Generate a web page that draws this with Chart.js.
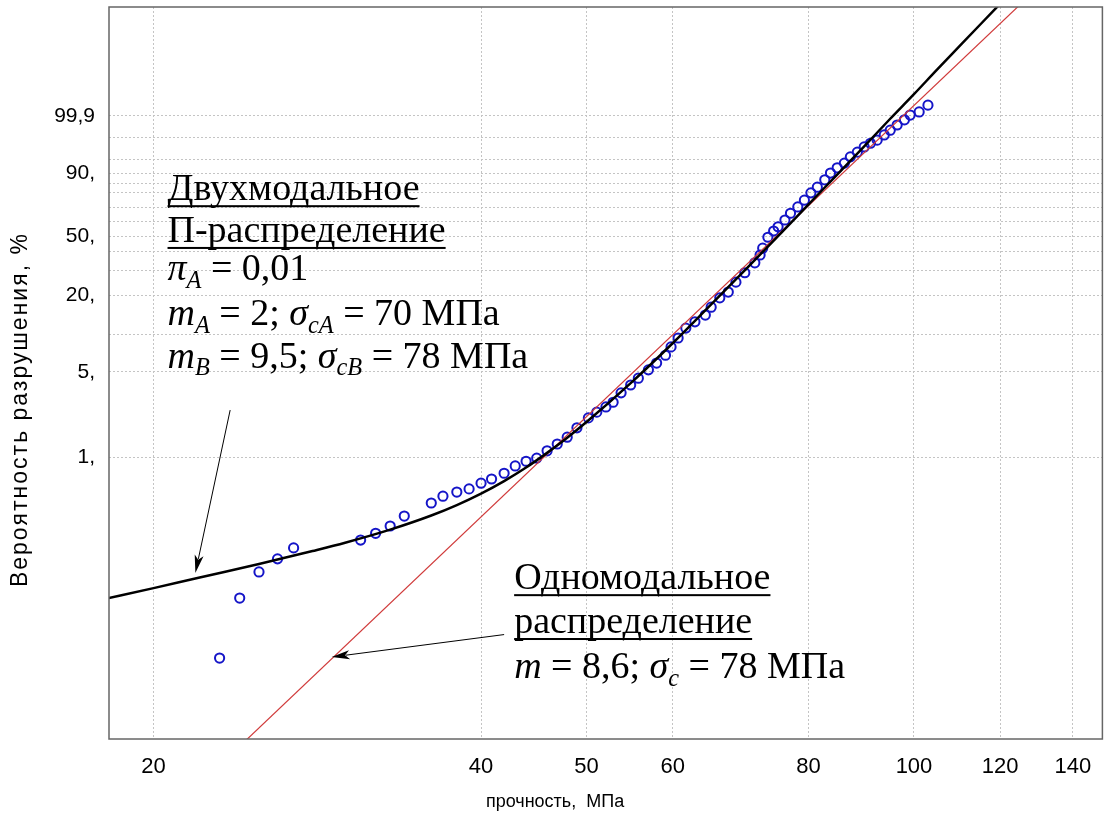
<!DOCTYPE html>
<html>
<head>
<meta charset="utf-8">
<script src="https://cdn.jsdelivr.net/npm/chart.js@4.4.0/dist/chart.umd.min.js"></script>
<style>
  html, body { margin: 0; padding: 0; background: #fff; }
</style>
</head>
<body>
<canvas id="chart" width="1109" height="823"></canvas>
<script>
// x: strength, MPa (log axis); y: Weibull ordinate ln(-ln(1-P))
const xTicks = [20, 40, 50, 60, 80, 100, 120, 140];
const yGridPercent = [1, 5, 10, 20, 30, 40, 50, 60, 70, 80, 85, 90, 95, 99, 99.9];
const yTickLabels = { 1: '1,', 5: '5,', 20: '20,', 50: '50,', 90: '90,', 99.9: '99,9' };

// test results (circles)
const pointStrength = [23.0, 24.0, 25.0, 26.0, 26.9, 31.0, 32.0, 33.0, 34.0, 36.0, 36.9, 38.0,
  39.0, 40.0, 40.9, 42.0, 43.0, 44.0, 45.0, 46.0, 47.0, 48.0, 49.0, 50.2, 51.1, 52.1, 52.9,
  53.8, 54.9, 55.8, 57.0, 58.0, 59.1, 59.8, 60.7, 61.7, 62.9, 64.3, 65.1, 66.3, 67.5, 68.6,
  69.9, 71.4, 72.2, 72.6, 73.4, 74.3, 75.0, 76.1, 77.0, 78.2, 79.3, 80.4, 81.5, 82.8, 83.8,
  85.0, 86.3, 87.4, 88.7, 90.0, 91.2, 92.5, 93.9, 95.1, 96.5, 98.0, 99.2, 101.1, 103.0];
const pointWeibull = [-8.45, -7.30, -6.80, -6.55, -6.34, -6.19, -6.06, -5.92, -5.73, -5.48, -5.35, -5.27,
  -5.21, -5.10, -5.02, -4.91, -4.77, -4.68, -4.62, -4.48, -4.35, -4.22, -4.04, -3.85, -3.74, -3.64, -3.55,
  -3.37, -3.22, -3.09, -2.93, -2.80, -2.65, -2.49, -2.32, -2.13, -2.01, -1.88, -1.73, -1.55, -1.44, -1.25,
  -1.07, -0.88, -0.73, -0.60, -0.39, -0.27, -0.19, -0.06, 0.07, 0.19, 0.32, 0.46, 0.57, 0.71, 0.84,
  0.94, 1.03, 1.15, 1.24, 1.34, 1.41, 1.47, 1.57, 1.66, 1.76, 1.86, 1.95, 2.01, 2.14];

// bimodal fit (black curve)
const bimodalStrength = [18, 20, 22, 25, 28, 30, 33, 36, 38, 40, 42, 44, 46, 48, 50, 55, 60, 65,
  70, 75, 80, 85, 90, 95, 100, 105, 110, 115, 121];
const bimodalWeibull = [-7.32, -7.11, -6.91, -6.65, -6.40, -6.24, -5.99, -5.72, -5.52, -5.30, -5.06,
  -4.80, -4.52, -4.23, -3.93, -3.17, -2.42, -1.69, -1.01, -0.37, 0.24, 0.81, 1.35, 1.87, 2.35, 2.82,
  3.26, 3.68, 4.16];

// unimodal fit (red line)
const unimodalStrength = [23.5, 127];
const unimodalWeibull = [-10.32, 4.19];

const weib = p => Math.log(-Math.log(1 - p / 100));
const zip = (xs, ys) => xs.map((x, i) => ({ x, y: ys[i] }));

const serif = '"Liberation Serif", "Times New Roman", serif';
const sans = '"Liberation Sans", Arial, sans-serif';

const textBlocks = [
  { x: 20.6, y: 0.32, underline: true, runs: [{ t: 'Двухмодальное' }] },
  { x: 20.6, y: -0.48, underline: true, runs: [{ t: 'П-распределение' }] },
  { x: 20.6, y: -1.21, runs: [{ t: 'π', it: true }, { t: 'A', it: true, sub: true }, { t: ' = 0,01' }] },
  { x: 20.6, y: -2.07, runs: [{ t: 'm', it: true }, { t: 'A', it: true, sub: true }, { t: ' = 2; ' },
    { t: 'σ', it: true }, { t: 'cA', it: true, sub: true }, { t: ' = 70 МПа' }] },
  { x: 20.6, y: -2.89, runs: [{ t: 'm', it: true }, { t: 'B', it: true, sub: true }, { t: ' = 9,5; ' },
    { t: 'σ', it: true }, { t: 'cB', it: true, sub: true }, { t: ' = 78 МПа' }] },
  { x: 42.9, y: -7.13, underline: true, runs: [{ t: 'Одномодальное' }] },
  { x: 42.9, y: -7.97, underline: true, runs: [{ t: 'распределение' }] },
  { x: 42.9, y: -8.83, runs: [{ t: 'm', it: true }, { t: ' = 8,6; ' }, { t: 'σ', it: true },
    { t: 'c', it: true, sub: true }, { t: ' = 78 МПа' }] }
];

const arrows = [
  { from: [23.52, -3.70], to: [21.85, -6.82] },
  { from: [42.0, -8.00], to: [29.16, -8.43] }
];

function drawRuns(ctx, x, y, runs, size) {
  const x0 = x;
  for (const r of runs) {
    const fs = r.sub ? size * 0.64 : size;
    ctx.font = (r.it ? 'italic ' : '') + fs + 'px ' + serif;
    ctx.fillText(r.t, x, y + (r.sub ? size * 0.2 : 0));
    x += ctx.measureText(r.t).width;
  }
  return x - x0;
}

function drawArrow(ctx, x0, y0, x1, y1) {
  const a = Math.atan2(y1 - y0, x1 - x0);
  const len = 18, half = 4.5;
  ctx.beginPath();
  ctx.moveTo(x0, y0);
  ctx.lineTo(x1 - Math.cos(a) * len * 0.8, y1 - Math.sin(a) * len * 0.8);
  ctx.lineWidth = 1;
  ctx.strokeStyle = '#000';
  ctx.stroke();
  ctx.beginPath();
  ctx.moveTo(x1, y1);
  ctx.lineTo(x1 - Math.cos(a) * len - Math.sin(a) * half, y1 - Math.sin(a) * len + Math.cos(a) * half);
  ctx.lineTo(x1 - Math.cos(a) * len * 0.75, y1 - Math.sin(a) * len * 0.75);
  ctx.lineTo(x1 - Math.cos(a) * len + Math.sin(a) * half, y1 - Math.sin(a) * len - Math.cos(a) * half);
  ctx.closePath();
  ctx.fillStyle = '#000';
  ctx.fill();
}

const decorations = {
  id: 'decorations',
  afterDraw(chart) {
    const { ctx, chartArea: ca, scales } = chart;
    const sx = scales.x, sy = scales.y;
    ctx.save();
    ctx.strokeStyle = '#666';
    ctx.lineWidth = 1.5;
    ctx.strokeRect(ca.left, ca.top, ca.right - ca.left, ca.bottom - ca.top);

    // axis titles
    ctx.fillStyle = '#000';
    ctx.textBaseline = 'alphabetic';
    ctx.textAlign = 'center';
    ctx.font = '18px ' + sans;
    ctx.fillText('прочность,  МПа', ca.left + (ca.right - ca.left) * 0.449, 807);
    ctx.save();
    ctx.translate(27, ca.top + (ca.bottom - ca.top) * 0.55);
    ctx.rotate(-Math.PI / 2);
    ctx.font = '23px ' + sans;
    ctx.letterSpacing = '2px';
    ctx.fillText('Вероятность разрушения, %', 0, 0);
    ctx.restore();

    ctx.textAlign = 'left';
    for (const b of textBlocks) {
      const px = sx.getPixelForValue(b.x), py = sy.getPixelForValue(b.y);
      ctx.fillStyle = '#000';
      const w = drawRuns(ctx, px, py, b.runs, 38);
      if (b.underline) ctx.fillRect(px, py + 5, w, 2);
    }
    for (const a of arrows) {
      drawArrow(ctx, sx.getPixelForValue(a.from[0]), sy.getPixelForValue(a.from[1]),
        sx.getPixelForValue(a.to[0]), sy.getPixelForValue(a.to[1]));
    }
    ctx.restore();
  }
};

new Chart(document.getElementById('chart'), {
  type: 'scatter',
  data: {
    datasets: [
      {
        data: zip(bimodalStrength, bimodalWeibull),
        showLine: true,
        borderColor: '#000',
        borderWidth: 2.5,
        pointRadius: 0,
        cubicInterpolationMode: 'monotone',
        clip: 0
      },
      {
        data: zip(unimodalStrength, unimodalWeibull),
        showLine: true,
        borderColor: '#d03a3a',
        borderWidth: 1.2,
        pointRadius: 0,
        clip: 0
      },
      {
        data: zip(pointStrength, pointWeibull),
        showLine: false,
        pointRadius: 4.6,
        pointBorderWidth: 2,
        pointBorderColor: '#1515c8',
        pointBackgroundColor: 'rgba(0,0,0,0)'
      }
    ]
  },
  options: {
    responsive: false,
    animation: false,
    devicePixelRatio: 1,
    layout: { padding: { top: 7, right: 3, left: 0, bottom: 0 } },
    plugins: {
      legend: { display: false },
      tooltip: { enabled: false }
    },
    scales: {
      x: {
        type: 'logarithmic',
        min: 18.2,
        max: 149,
        afterBuildTicks: axis => { axis.ticks = xTicks.map(v => ({ value: v })); },
        afterFit: axis => {
          axis.height = 84;
          axis.paddingLeft = 0;
          axis.paddingRight = 0;
        },
        ticks: {
          autoSkip: false,
          maxRotation: 0,
          padding: 15,
          color: '#000',
          font: { family: sans, size: 22 },
          callback: v => String(v)
        },
        grid: { color: '#c4c4c4', drawTicks: false },
        border: { display: false, dash: [2, 2] }
      },
      y: {
        type: 'linear',
        min: -10,
        max: 4.02,
        afterBuildTicks: axis => { axis.ticks = yGridPercent.map(p => ({ value: weib(p) })); },
        afterFit: axis => {
          axis.width = 109;
          axis.paddingTop = 0;
          axis.paddingBottom = 0;
        },
        ticks: {
          autoSkip: false,
          padding: 14,
          color: '#000',
          font: { family: sans, size: 21 },
          callback: (v, i) => yTickLabels[yGridPercent[i]] || ''
        },
        grid: { color: '#c4c4c4', drawTicks: false },
        border: { display: false, dash: [2, 2] }
      }
    }
  },
  plugins: [decorations]
});
</script>
</body>
</html>
